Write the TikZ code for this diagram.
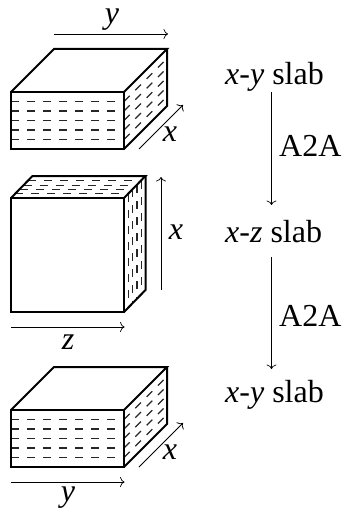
\documentclass[tikz,border=0pt]{standalone}
\usepackage{fontspec}
\setmainfont{Liberation Serif}
\usetikzlibrary{arrows.meta}
\tikzset{
  edge/.style={line width=2pt,line join=miter},
  hatch/.style={line width=1.2pt,dash pattern=on 8pt off 8pt,draw=black!85},
  dim/.style={line width=0.75pt,-{To[length=4.5pt,width=10pt]}},
  lab/.style={inner sep=0pt,font=\fontsize{32}{36}\selectfont},
  every node/.append style={text=black}
}
\newcommand{\slabcube}[2]{% #1 front top y, #2 front bottom y
  \foreach \k in {1,...,5} {
    \pgfmathsetmacro{\yy}{#1+(#2-#1)*\k/6}
    \draw[hatch] (11,\yy) -- (124,\yy);
    \draw[hatch] (124,\yy) -- (167,\yy-43);
  }
  \draw[edge] (11,#1) rectangle (124,#2);
  \draw[edge] (11,#1) -- (54,#1-43) -- (167,#1-43) -- (124,#1);
  \draw[edge] (167,#1-43) -- (167,#2-43) -- (124,#2);
}
\begin{document}
\begin{tikzpicture}[x=1pt,y=-1pt]
\useasboundingbox (0,0) rectangle (342,508);
% top cube
\slabcube{92}{149}
% middle cube
\foreach \k in {1,...,4} {
  \pgfmathsetmacro{\d}{4.3*\k}
  \draw[hatch] (11+\d,198-\d) -- (124+\d,198-\d);
  \draw[hatch] (124+\d,198-\d) -- (124+\d,312-\d);
}
\draw[edge] (11,198) rectangle (124,312);
\draw[edge] (11,198) -- (32.5,176) -- (145.5,176) -- (124,198);
\draw[edge] (145.5,176) -- (145.5,290) -- (124,312);
% bottom cube
\slabcube{410}{467}
% dimension arrows
\coordinate (ya0) at (54,34);   \coordinate (ya1) at (168,34);
\coordinate (xa0) at (139,149); \coordinate (xa1) at (183,105);
\coordinate (xb0) at (161,290); \coordinate (xb1) at (161,177);
\coordinate (za0) at (11,327);  \coordinate (za1) at (124.5,327);
\coordinate (xc0) at (139,467); \coordinate (xc1) at (183,423);
\coordinate (yc0) at (11,482);  \coordinate (yc1) at (124.5,482);
\draw[dim] (ya0) -- (ya1);
\draw[dim] (xa0) -- (xa1);
\draw[dim] (xb0) -- (xb1);
\draw[dim] (za0) -- (za1);
\draw[dim] (xc0) -- (xc1);
\draw[dim] (yc0) -- (yc1);
\node[lab] (ly1) at (112,20) {\itshape y};
\node[lab] (lx1) at (170,134) {\itshape x};
\node[lab] (lx2) at (176,232) {\itshape x};
\node[lab] (lz2) at (68,342) {\itshape z};
\node[lab] (lx3) at (170,452) {\itshape x};
\node[lab] (ly3) at (68,497.5) {\itshape y};
% right column
\node[lab,anchor=base west] (s1) at (225,85) {\textit{x-y} slab};
\node[lab,anchor=base west] (s2) at (225,242) {\textit{x-z} slab};
\node[lab,anchor=base west] (s3) at (225,402) {\textit{x-y} slab};
\coordinate (a0) at (271.5,92);  \coordinate (a1) at (271.5,205);
\coordinate (b0) at (271.5,257); \coordinate (b1) at (271.5,369);
\draw[dim] (a0) -- (a1);
\draw[dim] (b0) -- (b1);
\node[lab,anchor=base west] (m1) at (279,156) {A2A};
\node[lab,anchor=base west] (m2) at (279,326) {A2A};
\end{tikzpicture}
\end{document}
